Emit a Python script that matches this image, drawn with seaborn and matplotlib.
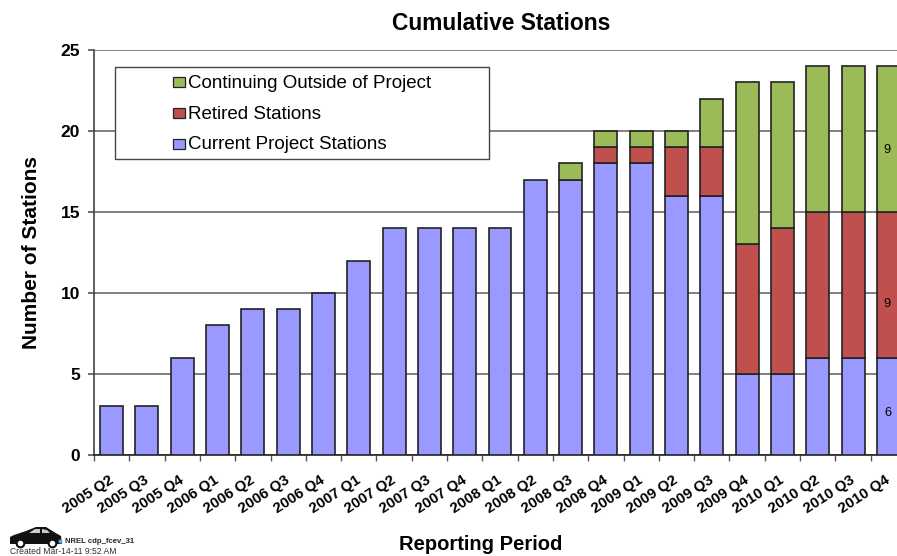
import matplotlib
matplotlib.use("Agg")
import matplotlib.pyplot as plt
import numpy as np
import pandas as pd
import seaborn as sns
from matplotlib.patches import Polygon, Rectangle

periods = [
    "2005 Q2", "2005 Q3", "2005 Q4", "2006 Q1", "2006 Q2", "2006 Q3", "2006 Q4",
    "2007 Q1", "2007 Q2", "2007 Q3", "2007 Q4", "2008 Q1", "2008 Q2", "2008 Q3",
    "2008 Q4", "2009 Q1", "2009 Q2", "2009 Q3", "2009 Q4", "2010 Q1", "2010 Q2",
    "2010 Q3", "2010 Q4",
]
current = [3, 3, 6, 8, 9, 9, 10, 12, 14, 14, 14, 14, 17, 17, 18, 18, 16, 16, 5, 5, 6, 6, 6]
retired = [0, 0, 0, 0, 0, 0, 0, 0, 0, 0, 0, 0, 0, 0, 1, 1, 3, 3, 8, 9, 9, 9, 9]
outside = [0, 0, 0, 0, 0, 0, 0, 0, 0, 0, 0, 0, 0, 1, 1, 1, 1, 3, 10, 9, 9, 9, 9]
y_ticks = [0, 5, 10, 15, 20, 25]

BLUE = "#9999FF"
RED = "#C0504D"
GREEN = "#9BBB59"
EDGE = "#222222"
W, H = 897, 556

sns.set_style("white")
plt.rcParams["font.family"] = ["Liberation Sans", "DejaVu Sans"]

df = pd.DataFrame({"period": periods, "current": current, "retired": retired, "outside": outside})

fig = plt.figure(figsize=(W / 100, H / 100), dpi=100)
# right end of the axes runs past the figure edge, the last bar is cut like the original
ax = fig.add_axes([94 / W, 1 - 455 / H, (906 - 94) / W, (455 - 50) / H])

bar_kw = dict(x="period", order=periods, width=0.65, edgecolor=EDGE, linewidth=1.2, errorbar=None, ax=ax, zorder=3)
sns.barplot(data=df, y="current", color=BLUE, saturation=1, **bar_kw)
sns.barplot(data=df[df.retired > 0], y="retired", bottom=df.current[df.retired > 0].values,
            color=RED, saturation=1, **bar_kw)
sns.barplot(data=df[df.outside > 0], y="outside",
            bottom=(df.current + df.retired)[df.outside > 0].values,
            color=GREEN, saturation=1, **bar_kw)

ax.set_xlim(-0.5, 22.5)
ax.set_ylim(0, 25)
ax.set_yticks(y_ticks)
ax.set_yticklabels(y_ticks, fontsize=12.5, fontweight="bold", color="black")
ax.set_xlabel("")
ax.set_ylabel("")
ax.grid(axis="y", color="#808080", linewidth=1.4, zorder=0)
ax.set_axisbelow(True)
for side in ["top", "right"]:
    ax.spines[side].set_visible(False)
ax.spines["left"].set_color("#444444")
ax.spines["left"].set_linewidth(1.2)
ax.spines["bottom"].set_color("#222222")
ax.spines["bottom"].set_linewidth(1.2)
ax.tick_params(axis="y", length=4, width=1.2, color="#555555", pad=6, left=True)
ax.tick_params(axis="x", length=4, width=1.0, color="#555555", pad=2, bottom=True)
ax.set_xticks(np.arange(len(periods)) - 0.5, minor=False)
ax.set_xticklabels([""] * len(periods))

# period labels sit at bar centres, rotated, ending under the bar
for i, label in enumerate(periods):
    ax.annotate(label, xy=(i, 0), xycoords=("data", "axes fraction"), xytext=(-2.5, -13),
                textcoords="offset points", rotation=33, rotation_mode="anchor",
                ha="right", va="top", fontsize=10.8, fontweight="bold", color="black")

# value labels on the last bar, placed a little under each segment's middle
last = len(periods) - 1
seg_mid = [current[last] / 2, current[last] + retired[last] / 2, current[last] + retired[last] + outside[last] / 2]
seg_val = [current[last], retired[last], outside[last]]
seg_off = [-4.5, -14, -8]
for mid, val, off in zip(seg_mid, seg_val, seg_off):
    ax.annotate(str(val), xy=(last, mid), xytext=(-0.7, off), textcoords="offset points",
                ha="center", va="center", fontsize=9.2, color="black", zorder=5)

# legend box
fig.add_artist(Rectangle((115 / W, 1 - 159 / H), (489 - 115) / W, (159 - 67) / H, transform=fig.transFigure,
                         facecolor="white", edgecolor="#444444", linewidth=1.0, zorder=4))
legend_names = ["Continuing Outside of Project", "Retired Stations", "Current Project Stations"]
legend_colors = [GREEN, RED, BLUE]
for name, color, yp in zip(legend_names, legend_colors, [82, 113, 143.5]):
    fig.add_artist(Rectangle((173 / W, 1 - (yp + 5) / H), 12 / W, 10 / H, transform=fig.transFigure,
                             facecolor=color, edgecolor=EDGE, linewidth=0.9, zorder=5))
    fig.text(188 / W, 1 - (yp + 1.5) / H, name, fontsize=13.5, va="center", ha="left", color="black", zorder=5)

fig.text(501.5 / W, 1 - 23.5 / H, "Cumulative Stations", fontsize=16.4, fontweight="bold", ha="center", va="center",
         color="black")
fig.text(31.5 / W, 1 - 252 / H, "Number of Stations", fontsize=15, fontweight="bold", rotation=90,
         ha="center", va="center", color="black")
fig.text(481 / W, 1 - 544 / H, "Reporting Period", fontsize=14.5, fontweight="bold", ha="center", va="center",
         color="black")

# small car logo and footer
car = [(10, 544), (10, 537), (14, 535), (26, 531), (36, 527), (46, 527), (54, 532), (61, 536), (62, 544)]
fig.add_artist(Polygon([(x / W, 1 - y / H) for x, y in car], transform=fig.transFigure, facecolor="#111111",
                       edgecolor="none"))
for win in ([(29, 533), (35, 529), (40, 529), (40, 533)], [(42, 533), (42, 529), (47, 530), (50, 533)]):
    fig.add_artist(Polygon([(x / W, 1 - y / H) for x, y in win], transform=fig.transFigure, facecolor="#cccccc",
                           edgecolor="none"))
for cx in [20, 52]:
    fig.add_artist(plt.Line2D([cx / W], [1 - 543 / H], marker="o", markersize=5.5, markerfacecolor="white",
                              markeredgecolor="#111111", markeredgewidth=1.5, transform=fig.transFigure))
fig.add_artist(plt.Line2D([60 / W], [1 - 541 / H], marker="o", markersize=3, markerfacecolor="#55AADD",
                          markeredgecolor="none", transform=fig.transFigure))
fig.text(65 / W, 1 - 541.5 / H, "NREL cdp_fcev_31", fontsize=5.6, fontweight="bold", va="center", ha="left")
fig.text(10 / W, 1 - 551.5 / H, "Created Mar-14-11 9:52 AM", fontsize=6.2, color="#333333", va="center", ha="left")

fig.savefig("out.png", dpi=100)
